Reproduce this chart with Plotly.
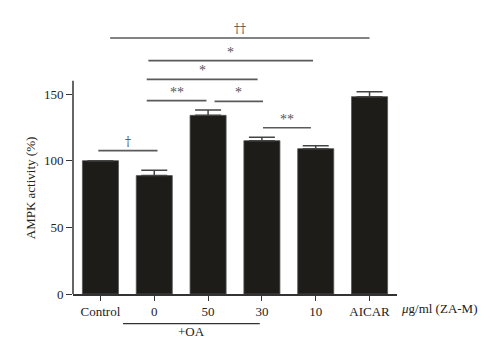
import plotly.graph_objects as go

categories = ["Control", "0", "50", "30", "10", "AICAR"]
activity = [100, 88.8, 134, 115, 109, 148]
sem = [0, 4.0, 4.0, 2.5, 2.2, 3.6]
y_ticks = [0, 50, 100, 150]

# significance brackets: (start category index, end category index, level, label)
brackets = [
    (-0.04, 1.06, 107.5, "†"),
    (0.86, 1.97, 145, "**"),
    (2.12, 3.02, 144.5, "*"),
    (0.86, 2.92, 161, "*"),
    (0.89, 3.95, 175, "*"),
    (0.18, 5.0, 192, "††"),
    (3.02, 3.91, 124.7, "**"),
]
oa_span = (0.42, 2.96)

FONT = "Liberation Serif"
fig = go.Figure()
fig.add_trace(go.Bar(
    x=list(range(len(categories))), y=activity, width=0.67,
    marker=dict(color="#1d1c18", line=dict(color="#555555", width=0.8)),
    error_y=dict(type="data", array=sem, arrayminus=[0]*len(sem), symmetric=False,
                 color="#444444", thickness=1.5, width=13),
))

shapes = []
annotations = []
for x0, x1, lvl, lab in brackets:
    shapes.append(dict(type="line", xref="x", yref="y", x0=x0, x1=x1, y0=lvl, y1=lvl,
                       line=dict(color="#5a5a5a", width=1.6)))
    is_dagger = "†" in lab
    annotations.append(dict(xref="x", yref="y", x=(x0 + x1) / 2, y=lvl, text=lab,
                            showarrow=False, yanchor="bottom", yshift=-1 if not is_dagger else 0,
                            font=dict(family="DejaVu Serif" if is_dagger else FONT,
                                      size=12 if is_dagger else 14, color="#555555")))
# y axis line only up to 160
shapes.append(dict(type="line", xref="paper", yref="y", x0=0, x1=0, y0=0, y1=160,
                   line=dict(color="#333333", width=1.5)))
# +OA line
shapes.append(dict(type="line", xref="x", yref="paper", x0=oa_span[0], x1=oa_span[1],
                   y0=-0.106, y1=-0.106, line=dict(color="#333333", width=1.3)))
annotations.append(dict(xref="x", yref="paper", x=(oa_span[0] + oa_span[1]) / 2, y=-0.135,
                        text="+OA", showarrow=False, yanchor="middle",
                        font=dict(family=FONT, size=13, color="#222222")))
annotations.append(dict(xref="paper", yref="paper", x=1, xshift=2, y=-0.05,
                        text="<i>μ</i>g/ml (ZA-M)", showarrow=False, xanchor="left",
                        yanchor="middle", font=dict(family=FONT, size=13, color="#222222")))
# y-axis title, centred on the drawn part of the axis
annotations.append(dict(xref="paper", yref="y", x=-0.133, y=80, text="AMPK activity (%)",
                        textangle=-90, showarrow=False, xanchor="center", yanchor="middle",
                        font=dict(family=FONT, size=13, color="#222222")))

# the page body adds an 8px offset, so the figure is 8px smaller and margins compensate
fig.update_layout(
    width=492, height=353,
    margin=dict(l=65, r=103.3, t=5.7, b=66.7, autoexpand=False),
    paper_bgcolor="white", plot_bgcolor="white",
    showlegend=False, shapes=shapes, annotations=annotations,
    font=dict(family=FONT, size=13, color="#222222"),
    xaxis=dict(range=[-0.51, 5.51], tickvals=list(range(len(categories))), ticktext=categories,
               showline=True, linecolor="#333333", linewidth=1.5, ticks="outside",
               ticklen=5, tickcolor="#333333", tickwidth=1.3, showgrid=False, zeroline=False,
               automargin=False,
               tickfont=dict(family=FONT, size=13, color="#222222")),
    yaxis=dict(range=[0, 210], tickvals=y_ticks, showline=False, ticks="outside",
               ticklen=6, tickcolor="#333333", tickwidth=1.3, showgrid=False, zeroline=False,
               automargin=False,
               tickfont=dict(family=FONT, size=13, color="#222222")),
)
fig.write_html("out.html")
